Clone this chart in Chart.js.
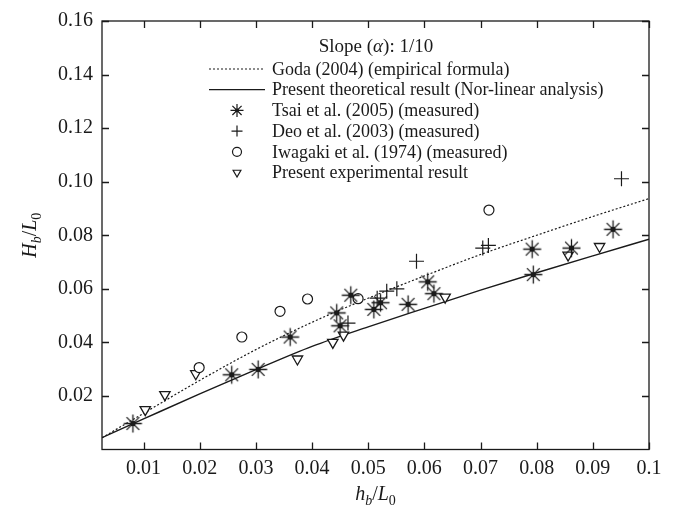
<!DOCTYPE html>
<html>
<head>
<meta charset="utf-8">
<style>
  html, body { margin: 0; padding: 0; background: #fff; }
  #wrap { width: 677px; height: 506px; }
</style>
<script src="https://cdn.jsdelivr.net/npm/chart.js@4.4.0/dist/chart.umd.min.js"></script>
</head>
<body>
<div id="wrap"><canvas id="chart"></canvas></div>
<script>
// axis ticks
const xTicks = [0.01, 0.02, 0.03, 0.04, 0.05, 0.06, 0.07, 0.08, 0.09, 0.1];
const xTickLabels = ["0.01", "0.02", "0.03", "0.04", "0.05", "0.06", "0.07", "0.08", "0.09", "0.1"];
const yTicks = [0.02, 0.04, 0.06, 0.08, 0.10, 0.12, 0.14, 0.16];
const yTickLabels = ["0.02", "0.04", "0.06", "0.08", "0.10", "0.12", "0.14", "0.16"];

// curves
const curveX = [0.0026, 0.01, 0.02, 0.03, 0.04, 0.05, 0.06, 0.07, 0.08, 0.09, 0.1];
const godaY = [0.0044, 0.0135, 0.0258, 0.0373, 0.0475, 0.0565, 0.0648, 0.0728, 0.0800, 0.0870, 0.0937];
const theoryY = [0.0044, 0.0114, 0.0208, 0.0298, 0.0385, 0.0458, 0.0527, 0.0595, 0.0660, 0.0723, 0.0785];

// measured points
const tsaiX = [0.0081, 0.0257, 0.0304, 0.0361, 0.0444, 0.0450, 0.0469, 0.0510, 0.0522, 0.0571, 0.0606, 0.0617, 0.0792, 0.0794, 0.0862, 0.0936];
const tsaiY = [0.0097, 0.0279, 0.0299, 0.0420, 0.0510, 0.0462, 0.0576, 0.0523, 0.0548, 0.0542, 0.0626, 0.0582, 0.0748, 0.0653, 0.0752, 0.0822];
const deoX = [0.0464, 0.0516, 0.0533, 0.0551, 0.0586, 0.0704, 0.0714, 0.0951];
const deoY = [0.0472, 0.0565, 0.0591, 0.0600, 0.0703, 0.0752, 0.0762, 0.1011];
const iwagakiX = [0.0199, 0.0275, 0.0343, 0.0392, 0.0482, 0.0715];
const iwagakiY = [0.0306, 0.0420, 0.0516, 0.0562, 0.0563, 0.0894];
const presentX = [0.0103, 0.0138, 0.0193, 0.0374, 0.0437, 0.0456, 0.0637, 0.0856, 0.0912];
const presentY = [0.0149, 0.0205, 0.0283, 0.0338, 0.0400, 0.0427, 0.0569, 0.0726, 0.0758];

const INK = "#1a1a1a";
const SERIF = "'Liberation Serif', 'DejaVu Serif', serif";

function pts(xs, ys) {
    return xs.map((x, i) => ({ x, y: ys[i] }));
}

// asterisk with a filled centre dot
function drawAsterisk(ctx, cx, cy, r) {
    ctx.beginPath();
    for (let k = 0; k < 4; k++) {
        const a = k * Math.PI / 4;
        ctx.moveTo(cx - r * Math.cos(a), cy - r * Math.sin(a));
        ctx.lineTo(cx + r * Math.cos(a), cy + r * Math.sin(a));
    }
    ctx.stroke();
    ctx.beginPath();
    ctx.arc(cx, cy, r * 0.3, 0, Math.PI * 2);
    ctx.fill();
}

const starImg = document.createElement("canvas");
starImg.width = 21;
starImg.height = 21;
(() => {
    const c = starImg.getContext("2d");
    c.strokeStyle = INK;
    c.fillStyle = INK;
    c.lineWidth = 1.3;
    drawAsterisk(c, 10.5, 10.5, 9);
})();

// italic / subscript pieces for the axis titles
function drawMath(ctx, parts, cx, cy, size) {
    const fontOf = (p) => `${p.it ? "italic " : ""}${p.sub ? size * 0.7 : size}px ${SERIF}`;
    let total = 0;
    parts.forEach((p) => { ctx.font = fontOf(p); total += ctx.measureText(p.t).width; });
    let x = cx - total / 2;
    ctx.textBaseline = "alphabetic";
    ctx.textAlign = "left";
    parts.forEach((p) => {
        ctx.font = fontOf(p);
        ctx.fillText(p.t, x, cy + size * 0.35 + (p.sub ? size * 0.25 : 0));
        x += ctx.measureText(p.t).width;
    });
}

const legendRows = [
    { label: "Goda (2004) (empirical formula)", kind: "dash" },
    { label: "Present theoretical result (Nor-linear analysis)", kind: "line" },
    { label: "Tsai et al. (2005) (measured)", kind: "star" },
    { label: "Deo et al. (2003) (measured)", kind: "cross" },
    { label: "Iwagaki et al. (1974) (measured)", kind: "circle" },
    { label: "Present experimental result", kind: "triangle" },
];

const decor = {
    id: "decor",
    afterDraw(chart) {
        const { ctx, chartArea: a, scales } = chart;
        const sx = scales.x, sy = scales.y;
        ctx.save();
        ctx.strokeStyle = INK;
        ctx.fillStyle = INK;

        // frame with inward ticks on all four sides
        ctx.lineWidth = 1.3;
        ctx.strokeRect(a.left, a.top, a.right - a.left, a.bottom - a.top);
        ctx.beginPath();
        xTicks.forEach((v) => {
            const px = Math.round(sx.getPixelForValue(v)) + 0.5;
            ctx.moveTo(px, a.bottom); ctx.lineTo(px, a.bottom - 7);
            ctx.moveTo(px, a.top); ctx.lineTo(px, a.top + 7);
        });
        yTicks.forEach((v) => {
            const py = Math.round(sy.getPixelForValue(v)) + 0.5;
            ctx.moveTo(a.left, py); ctx.lineTo(a.left + 7, py);
            ctx.moveTo(a.right, py); ctx.lineTo(a.right - 7, py);
        });
        ctx.stroke();

        // axis titles
        drawMath(ctx, [
            { t: "h", it: true }, { t: "b", it: true, sub: true },
            { t: "/" }, { t: "L", it: true }, { t: "0", sub: true },
        ], (a.left + a.right) / 2, 493, 20);
        ctx.save();
        ctx.translate(29, (a.top + a.bottom) / 2);
        ctx.rotate(-Math.PI / 2);
        drawMath(ctx, [
            { t: "H", it: true }, { t: "b", it: true, sub: true },
            { t: "/" }, { t: "L", it: true }, { t: "0", sub: true },
        ], 0, 0, 20);
        ctx.restore();

        // legend title
        ctx.textBaseline = "middle";
        ctx.textAlign = "left";
        const t1 = "Slope (", t2 = "α", t3 = "): 1/10";
        ctx.font = `19px ${SERIF}`;
        const w1 = ctx.measureText(t1).width, w3 = ctx.measureText(t3).width;
        ctx.font = `italic 19px ${SERIF}`;
        const w2 = ctx.measureText(t2).width;
        let tx = 376 - (w1 + w2 + w3) / 2;
        ctx.font = `19px ${SERIF}`;
        ctx.fillText(t1, tx, 47); tx += w1;
        ctx.font = `italic 19px ${SERIF}`;
        ctx.fillText(t2, tx, 47); tx += w2;
        ctx.font = `19px ${SERIF}`;
        ctx.fillText(t3, tx, 47);

        // legend rows
        legendRows.forEach((row, i) => {
            const ry = 69 + i * 20.7;
            ctx.strokeStyle = INK;
            ctx.fillStyle = INK;
            ctx.lineWidth = 1.2;
            if (row.kind === "dash" || row.kind === "line") {
                ctx.setLineDash(row.kind === "dash" ? [2, 2] : []);
                ctx.beginPath();
                ctx.moveTo(209, ry); ctx.lineTo(265, ry);
                ctx.stroke();
                ctx.setLineDash([]);
            } else if (row.kind === "star") {
                drawAsterisk(ctx, 237, ry, 6.5);
            } else {
                ctx.fillStyle = "#fff";
                Chart.helpers.drawPoint(ctx, {
                    pointStyle: row.kind,
                    radius: row.kind === "cross" ? 5.5 : 4.5,
                    rotation: row.kind === "triangle" ? 180 : 0,
                    borderWidth: 1.2,
                }, 237, ry);
                ctx.fillStyle = INK;
            }
            ctx.font = `18px ${SERIF}`;
            ctx.fillText(row.label, 272, ry + 1);
        });
        ctx.restore();
    },
};

const tickFont = { family: SERIF, size: 20 };

new Chart(document.getElementById("chart"), {
    type: "scatter",
    data: {
        datasets: [
            {
                label: "Goda (2004) (empirical formula)",
                data: pts(curveX, godaY),
                showLine: true,
                borderColor: INK,
                borderWidth: 1.2,
                borderDash: [2, 2],
                pointRadius: 0,
                cubicInterpolationMode: "monotone",
                order: 10,
            },
            {
                label: "Present theoretical result (Nor-linear analysis)",
                data: pts(curveX, theoryY),
                showLine: true,
                borderColor: INK,
                borderWidth: 1.4,
                pointRadius: 0,
                cubicInterpolationMode: "monotone",
                order: 10,
            },
            {
                label: "Tsai et al. (2005) (measured)",
                data: pts(tsaiX, tsaiY),
                pointStyle: starImg,
                pointRadius: 9,
                order: 1,
            },
            {
                label: "Deo et al. (2003) (measured)",
                data: pts(deoX, deoY),
                pointStyle: "cross",
                pointRadius: 7.5,
                borderColor: INK,
                borderWidth: 1.2,
                order: 2,
            },
            {
                label: "Iwagaki et al. (1974) (measured)",
                data: pts(iwagakiX, iwagakiY),
                pointStyle: "circle",
                pointRadius: 5,
                borderColor: INK,
                backgroundColor: "#fff",
                borderWidth: 1.2,
                order: 3,
            },
            {
                label: "Present experimental result",
                data: pts(presentX, presentY),
                pointStyle: "triangle",
                rotation: 180,
                pointRadius: 6,
                borderColor: INK,
                backgroundColor: "#fff",
                borderWidth: 1.3,
                order: 4,
            },
        ],
    },
    options: {
        responsive: true,
        maintainAspectRatio: false,
        animation: false,
        layout: { padding: { top: 15, right: 28, left: 0, bottom: 0 } },
        plugins: {
            legend: { display: false },
            tooltip: { enabled: false },
        },
        scales: {
            x: {
                type: "linear",
                min: 0.0026,
                max: 0.1,
                afterBuildTicks: (s) => { s.ticks = xTicks.map((v) => ({ value: v })); },
                afterFit: (s) => { s.height = 56.5; },
                grid: { display: false, drawTicks: false },
                border: { display: false },
                ticks: {
                    autoSkip: false,
                    maxRotation: 0,
                    padding: 7,
                    color: INK,
                    font: tickFont,
                    callback: (v, i) => xTickLabels[i],
                },
            },
            y: {
                type: "linear",
                min: 0,
                max: 0.16,
                afterBuildTicks: (s) => { s.ticks = yTicks.map((v) => ({ value: v })); },
                afterFit: (s) => { s.width = 102; },
                grid: { display: false, drawTicks: false },
                border: { display: false },
                ticks: {
                    autoSkip: false,
                    padding: 9,
                    color: INK,
                    font: tickFont,
                    callback: (v, i) => yTickLabels[i],
                },
            },
        },
    },
    plugins: [decor],
});
</script>
</body>
</html>
